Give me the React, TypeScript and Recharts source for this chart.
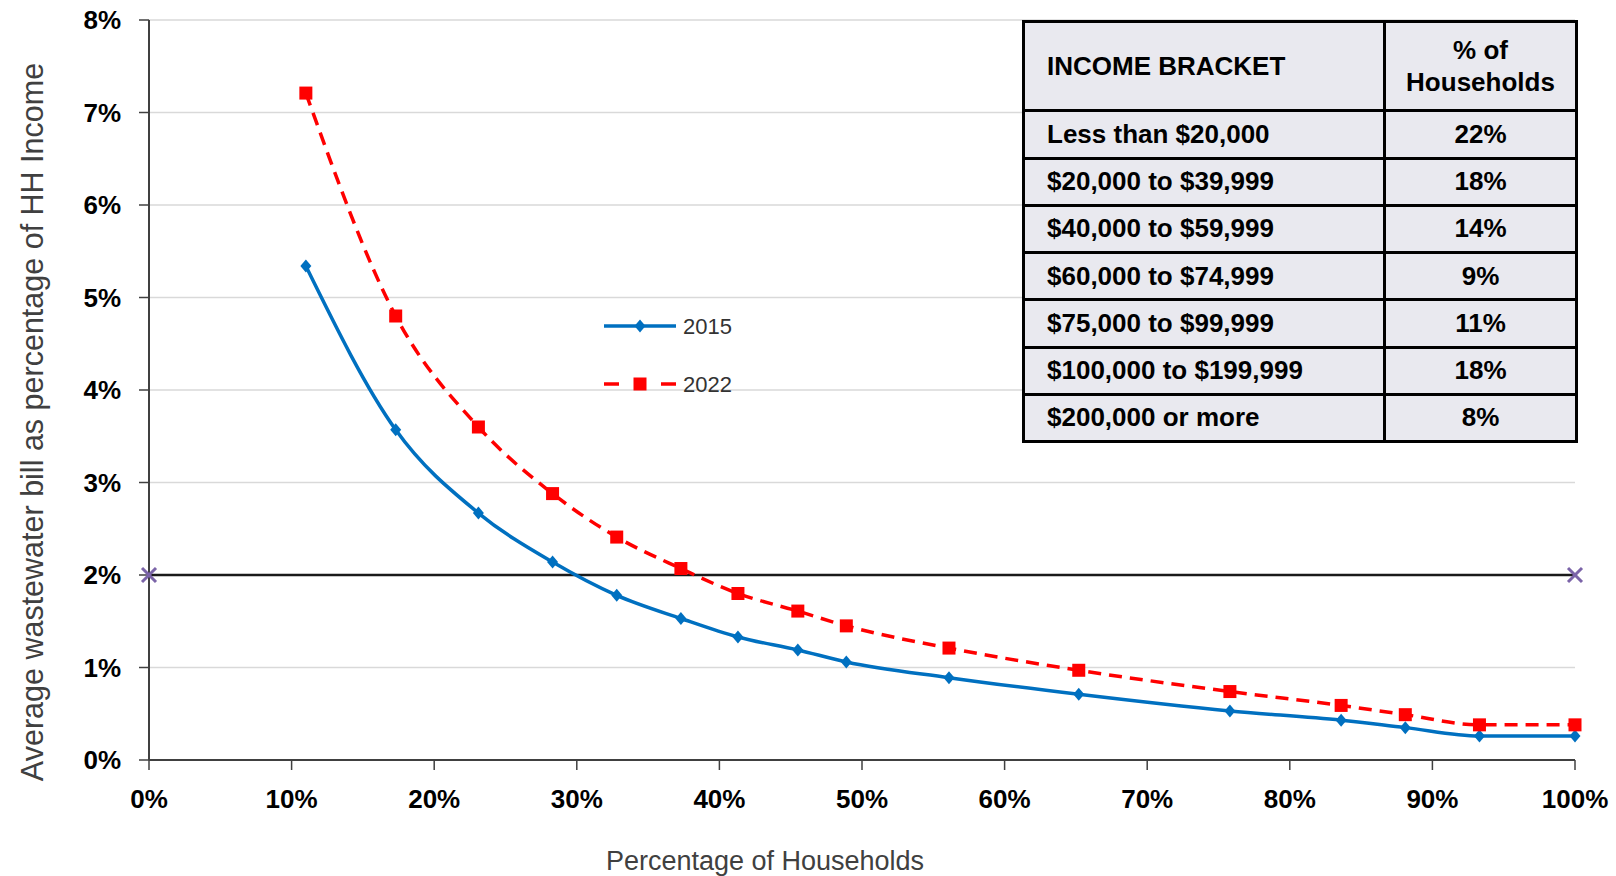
import React from 'react';
import { LineChart, Line, XAxis, YAxis, CartesianGrid } from 'recharts';

// cumulative share of households (x) and bill burden (% of HH income)
const householdPct = [11.0, 17.3, 23.1, 28.3, 32.8, 37.3, 41.3, 45.5, 48.9, 56.1, 65.2, 75.8, 83.6, 88.1, 93.3, 100];
const bill2015 = [5.34, 3.57, 2.67, 2.14, 1.78, 1.53, 1.33, 1.19, 1.06, 0.89, 0.71, 0.53, 0.43, 0.35, 0.26, 0.26];
const bill2022 = [7.21, 4.8, 3.6, 2.88, 2.41, 2.07, 1.8, 1.61, 1.45, 1.21, 0.97, 0.74, 0.59, 0.49, 0.38, 0.38];

// 2% affordability threshold
const thresholdX = [0, 100];
const thresholdPct = 2;

const xTicks = [0, 10, 20, 30, 40, 50, 60, 70, 80, 90, 100];
const yTicks = [0, 1, 2, 3, 4, 5, 6, 7, 8];

const incomeBrackets = [
  'Less than $20,000',
  '$20,000 to $39,999',
  '$40,000 to $59,999',
  '$60,000 to $74,999',
  '$75,000 to $99,999',
  '$100,000 to $199,999',
  '$200,000 or more',
];
const householdShares = ['22%', '18%', '14%', '9%', '11%', '18%', '8%'];

const FONT = "'Liberation Sans', Arial, sans-serif";
const BLUE = '#0070C0';
const RED = '#FF0000';
const PURPLE = '#7B64A8';

const data = householdPct.map((x, i) => ({ x, y2015: bill2015[i], y2022: bill2022[i] }));
const thresholdData = thresholdX.map((x) => ({ x, y: thresholdPct }));

const diamond = (cx: number, cy: number) => `M${cx},${cy - 6.5} L${cx + 5.5},${cy} L${cx},${cy + 6.5} L${cx - 5.5},${cy} Z`;

const DiamondDot = (props: any) => {
  const { cx, cy, index } = props;
  return <path key={`d-${index}`} d={diamond(cx, cy)} fill={BLUE} />;
};

const SquareDot = (props: any) => {
  const { cx, cy, index } = props;
  return <rect key={`s-${index}`} x={cx - 6.5} y={cy - 6.5} width={13} height={13} fill={RED} />;
};

const CrossDot = (props: any) => {
  const { cx, cy, index } = props;
  return (
    <g key={`c-${index}`} stroke={PURPLE} strokeWidth={3}>
      <line x1={cx - 7} y1={cy - 7} x2={cx + 7} y2={cy + 7} />
      <line x1={cx - 7} y1={cy + 7} x2={cx + 7} y2={cy - 7} />
    </g>
  );
};

const YTick = (props: any) => {
  const { y, payload } = props;
  return (
    <text x={121} y={y} dy={9} textAnchor="end" fontFamily={FONT} fontWeight="bold" fontSize={26} fill="#000">
      {`${payload.value}%`}
    </text>
  );
};

const XTick = (props: any) => {
  const { x, payload } = props;
  return (
    <text x={x} y={808} textAnchor="middle" fontFamily={FONT} fontWeight="bold" fontSize={26} fill="#000">
      {`${payload.value}%`}
    </text>
  );
};

const cellBorder = '3px solid #000';

const IncomeTable = () => (
  <table
    style={{
      position: 'absolute',
      left: 1022,
      top: 20,
      width: 556,
      height: 423,
      borderCollapse: 'collapse',
      background: '#E9E9EF',
      fontFamily: FONT,
      fontWeight: 'bold',
      fontSize: 26,
      color: '#000',
    }}
  >
    <tbody>
      <tr style={{ height: 89 }}>
        <td style={{ border: cellBorder, paddingLeft: 22, width: 335 }}>INCOME BRACKET</td>
        <td style={{ border: cellBorder, textAlign: 'center', lineHeight: '32px' }}>
          % of
          <br />
          Households
        </td>
      </tr>
      {incomeBrackets.map((b, i) => (
        <tr key={b} style={{ height: 47 }}>
          <td style={{ border: cellBorder, padding: '0 0 0 22px' }}>{b}</td>
          <td style={{ border: cellBorder, textAlign: 'center', padding: 0 }}>{householdShares[i]}</td>
        </tr>
      ))}
    </tbody>
  </table>
);

const ChartLegend = () => (
  <svg style={{ position: 'absolute', left: 0, top: 0 }} width={760} height={420}>
    <line x1={604} y1={326} x2={676} y2={326} stroke={BLUE} strokeWidth={3.5} />
    <path d={diamond(640, 326)} fill={BLUE} />
    <text x={683} y={334} fontFamily={FONT} fontSize={22} fill="#333">2015</text>
    <line x1={604} y1={384} x2={676} y2={384} stroke={RED} strokeWidth={3.5} strokeDasharray="15 42 15" />
    <rect x={633.5} y={377.5} width={13} height={13} fill={RED} />
    <text x={683} y={392} fontFamily={FONT} fontSize={22} fill="#333">2022</text>
  </svg>
);

export default function App() {
  return (
    <div style={{ position: 'absolute', left: 0, top: 0, width: 1616, height: 876, background: '#fff' }}>
      <LineChart width={1616} height={876} data={data} margin={{ top: 20, right: 41, bottom: 0, left: 0 }}>
        <CartesianGrid vertical={false} stroke="#D9D9D9" strokeWidth={1.5} />
        <XAxis
          dataKey="x"
          type="number"
          domain={[0, 100]}
          ticks={xTicks}
          height={116}
          tick={<XTick />}
          tickSize={10}
          tickLine={{ stroke: '#404040', strokeWidth: 1.5 }}
          axisLine={{ stroke: '#404040', strokeWidth: 2 }}
        />
        <YAxis
          type="number"
          domain={[0, 8]}
          ticks={yTicks}
          width={149}
          tick={<YTick />}
          tickSize={10}
          tickLine={{ stroke: '#404040', strokeWidth: 1.5 }}
          axisLine={{ stroke: '#404040', strokeWidth: 2 }}
        />
        <Line
          data={thresholdData}
          dataKey="y"
          type="linear"
          stroke="#1A1A1A"
          strokeWidth={2.5}
          dot={CrossDot}
          activeDot={false}
          legendType="none"
          isAnimationActive={false}
        />
        <Line
          dataKey="y2015"
          name="2015"
          type="monotone"
          stroke={BLUE}
          strokeWidth={3.5}
          dot={DiamondDot}
          activeDot={false}
          isAnimationActive={false}
        />
        <Line
          dataKey="y2022"
          name="2022"
          type="monotone"
          stroke={RED}
          strokeWidth={3.5}
          strokeDasharray="13 8"
          dot={SquareDot}
          activeDot={false}
          isAnimationActive={false}
        />
        <text
          x={43}
          y={422}
          transform="rotate(-90, 43, 422)"
          textAnchor="middle"
          fontFamily={FONT}
          fontSize={30.5}
          fill="#404040"
        >
          Average wastewater bill as percentage of HH Income
        </text>
        <text x={765} y={870} textAnchor="middle" fontFamily={FONT} fontSize={27} fill="#404040">
          Percentage of Households
        </text>
      </LineChart>
      <ChartLegend />
      <IncomeTable />
    </div>
  );
}
